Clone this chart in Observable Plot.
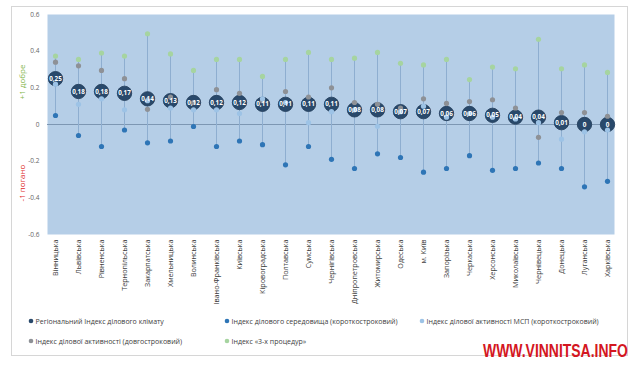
<!DOCTYPE html>
<html>
<head>
<meta charset="utf-8">
<script src="https://cdn.jsdelivr.net/npm/d3@7"></script>
<script src="https://cdn.jsdelivr.net/npm/@observablehq/plot@0.6"></script>
<style>
  html, body { margin: 0; padding: 0; background: #fff; }
  #wrap { position: relative; width: 640px; height: 367px; overflow: hidden; font-family: "Open Sans", "Noto Sans", sans-serif; }
  #frame { position: absolute; left: 11px; top: 6px; width: 617px; height: 350px; border: 1px solid #d6d6d6; box-sizing: border-box; }
  #chart { position: absolute; left: 0; top: 0; }
  #over { position: absolute; left: 0; top: 0; }
</style>
</head>
<body>
<div id="wrap">
  <div id="frame"></div>
  <div id="chart"></div>
</div>
<script>
const regions = ["Вінницька","Львівська","Рівненська","Тернопільська","Закарпатська","Хмельницька","Волинська","Івано-Франківська","Київська","Кіровоградська","Полтавська","Сумська","Чернігівська","Дніпропетровська","Житомирська","Одеська","м. Київ","Запорізька","Черкаська","Херсонська","Миколаївська","Чернівецька","Донецька","Луганська","Харківська"];
const climate  = [0.25,0.18,0.18,0.17,0.14,0.13,0.12,0.12,0.12,0.11,0.11,0.11,0.11,0.08,0.08,0.07,0.07,0.06,0.06,0.05,0.04,0.04,0.01,0,0];
const envShort = [0.049,-0.06,-0.12,-0.03,-0.10,-0.09,-0.011,-0.12,-0.09,-0.11,-0.22,-0.12,-0.19,-0.24,-0.16,-0.18,-0.26,-0.24,-0.17,-0.25,-0.24,-0.21,-0.24,-0.34,-0.31];
const smeShort = [0.22,0.11,0.14,0.08,0.13,0.09,0.08,0.08,0.06,0.14,0.12,0.01,0.07,0.08,-0.01,0.07,0.10,0.04,0.06,0.04,0.03,0.01,-0.08,-0.04,-0.03];
const actLong  = [0.34,0.32,0.295,0.25,0.083,0.15,0.12,0.19,0.17,0.13,0.18,0.15,0.20,0.12,0.11,0.09,0.14,0.115,0.125,0.135,0.09,-0.07,0.065,0.065,0.045];
const proc3    = [0.373,0.355,0.39,0.373,0.495,0.385,0.295,0.355,0.355,0.262,0.355,0.393,0.355,0.362,0.393,0.334,0.325,0.355,0.245,0.313,0.304,0.465,0.304,0.325,0.284];
const yTicks = [-0.6,-0.4,-0.2,0,0.2,0.4,0.6];
const seriesNames = ["Регіональний Індекс ділового  клімату","Індекс ділового середовища (короткостроковий)","Індекс ділової активності МСП (короткостроковий)","Індекс ділової активності (довгостроковий)","Індекс «3-х процедур»"];
const colors = {climate: "#29496b", env: "#2e75b6", sme: "#9dc3e6", act: "#8e9196", proc: "#a6d4a0"};

const data = regions.map((r, i) => ({
  region: r, climate: climate[i], env: envShort[i], sme: smeShort[i], act: actLong[i], proc: proc3[i],
  lo: Math.min(climate[i], envShort[i], smeShort[i], actLong[i], proc3[i]),
  hi: Math.max(climate[i], envShort[i], smeShort[i], actLong[i], proc3[i]),
  label: climate[i] === 0 ? "0" : climate[i].toFixed(2).replace(".", ",")
}));

const fmtY = d => d === 0 ? "0" : d.toFixed(1);

const chart = Plot.plot({
  width: 640,
  height: 310,
  marginLeft: 47,
  marginRight: 26,
  marginTop: 14,
  marginBottom: 76,
  style: {fontFamily: "'Open Sans', 'Noto Sans', sans-serif", background: "transparent"},
  x: {domain: regions, padding: 0},
  y: {domain: [-0.6, 0.6]},
  marks: [
    Plot.frame({fill: "#b5cee7", stroke: null}),
    Plot.ruleY([0], {stroke: "#7d97b3", strokeWidth: 1}),
    Plot.ruleX(data, {x: "region", y1: "lo", y2: "hi", stroke: "#8eaed0", strokeWidth: 1}),
    Plot.dot(data, {x: "region", y: "climate", r: 7.2, fill: colors.climate, stroke: "#1f3a57", strokeWidth: 0.8}),
    Plot.dot(data, {x: "region", y: "proc", r: 2.6, fill: colors.proc}),
    Plot.dot(data, {x: "region", y: "act", r: 2.6, fill: colors.act}),
    Plot.dot(data, {x: "region", y: "sme", r: 2.6, fill: colors.sme}),
    Plot.dot(data, {x: "region", y: "env", r: 2.6, fill: colors.env}),
    Plot.text(data, {x: "region", y: "climate", text: "label", fill: "white", fontWeight: "bold", fontSize: 6.3}),
    Plot.axisY({ticks: yTicks, tickFormat: fmtY, tickSize: 0, tickPadding: 8, fontSize: 6.5, fill: "#666", label: null}),
    Plot.axisX({tickRotate: -90, tickSize: 0, tickPadding: 5, fontSize: 7.2, fill: "#404040", label: null})
  ]
});
document.getElementById("chart").appendChild(chart);

// side labels
const svg = d3.select(chart);
svg.append("text").attr("transform", "translate(25,82) rotate(-90)").attr("text-anchor", "middle")
  .attr("font-size", 8).attr("fill", "#7fb547").text("+1 добре");
svg.append("text").attr("transform", "translate(25,183) rotate(-90)").attr("text-anchor", "middle")
  .attr("font-size", 8).attr("fill", "#e02828").text("-1 погано");

// overlay: legend + watermark
const wrap = document.getElementById("wrap");
const over = d3.select(wrap).append("svg").attr("id", "over").attr("width", 640).attr("height", 367)
  .style("font-family", "'Open Sans', 'Noto Sans', sans-serif");
const legItems = [
  {name: seriesNames[0], color: colors.climate, x: 31, y: 321},
  {name: seriesNames[1], color: colors.env, x: 227, y: 321},
  {name: seriesNames[2], color: colors.sme, x: 422, y: 321},
  {name: seriesNames[3], color: colors.act, x: 31, y: 341},
  {name: seriesNames[4], color: colors.proc, x: 227, y: 341}
];
legItems.forEach(it => {
  over.append("circle").attr("cx", it.x).attr("cy", it.y).attr("r", 2.3).attr("fill", it.color);
  over.append("text").attr("x", it.x + 4.5).attr("y", it.y + 2.5).attr("font-size", 7)
    .attr("fill", "#404040").text(it.name);
});

const wm = over.append("text")
  .attr("font-family", "'Liberation Sans Narrow', 'Liberation Sans', 'DejaVu Sans Condensed', sans-serif")
  .attr("font-weight", "bold").attr("font-size", 18).attr("fill", "#d4171f").text("WWW.VINNITSA.INFO");
const w = wm.node().getComputedTextLength() || 145;
wm.attr("transform", `translate(483,357) scale(${145 / w},1)`);
</script>
</body>
</html>
